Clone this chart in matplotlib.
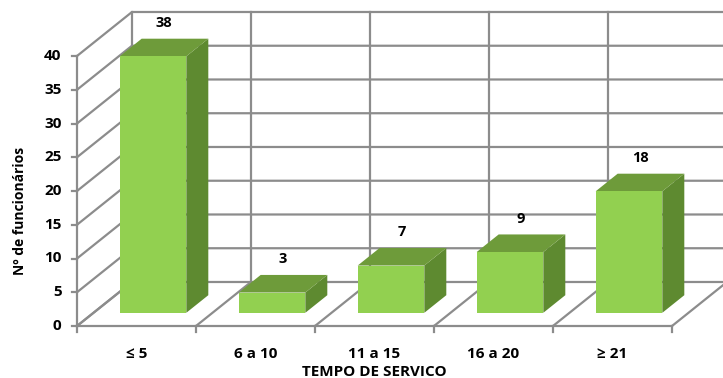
import matplotlib
matplotlib.use("Agg")
import matplotlib.pyplot as plt
from matplotlib.patches import Polygon

categories = ["≤ 5", "6 a 10", "11 a 15", "16 a 20", "≥ 21"]
values = [38, 3, 7, 9, 18]
y_ticks = [0, 5, 10, 15, 20, 25, 30, 35, 40]

FONT = ["Open Sans", "DejaVu Sans"]
GRID = "#8c8c8c"
FRONT = "#92d050"
TOP = "#6e9b3a"
SIDE = "#5e8a30"

# oblique depth offset (in data units) for the full floor depth
DX, DY = 0.462, 6.52
BAR_W = 0.56
D0, D1 = 0.3, 0.7  # bar depth span


def proj(x, y, d):
    return (x + d * DX, y + d * DY)


fig = plt.figure(figsize=(7.23, 3.78), dpi=100)
ax = fig.add_axes([0, 0, 1, 1])
# map data so that front origin sits at pixel (77, 326)
ax.set_xlim((0 - 77) / 119, (723 - 77) / 119)
ax.set_ylim((326 - 378) / 6.75, (326 - 0) / 6.75)
ax.axis("off")

n = len(categories)
ymax = y_ticks[-1]
lw = 1.6

# back wall horizontal gridlines + left wall diagonals
for t in y_ticks:
    x0, y0 = proj(0, t, 0)
    x1, y1 = proj(0, t, 1)
    x2, y2 = proj(n, t, 1)
    ax.plot([x0, x1, x2], [y0, y1, y2], color=GRID, lw=lw, zorder=1)
    ax.plot([x0 - 0.04, x0], [y0, y0], color=GRID, lw=lw, zorder=1)
    ax.text(x0 - 0.13, y0, str(t), ha="right", va="center", fontsize=11,
            fontweight="bold", family=FONT)

# back wall verticals and floor diagonals
for i in range(n + 1):
    xb, yb = proj(i, 0, 1)
    xt, yt = proj(i, ymax, 1)
    ax.plot([xb, xt], [yb, yt], color=GRID, lw=lw, zorder=1)
    xf, yf = proj(i, 0, 0)
    ax.plot([xf, xb], [yf, yb], color=GRID, lw=lw, zorder=1)
    ax.plot([xf, xf], [yf, yf - 0.9], color=GRID, lw=lw, zorder=1)

# front axes lines
ax.plot([0, 0], [0, ymax], color=GRID, lw=lw, zorder=1)
ax.plot([0, n], [0, 0], color=GRID, lw=lw, zorder=1)

# 3D bars
for i, (cat, v) in enumerate(zip(categories, values)):
    xl = i + (1 - BAR_W) / 2
    xr = xl + BAR_W
    front = [proj(xl, 0, D0), proj(xr, 0, D0), proj(xr, v, D0), proj(xl, v, D0)]
    side = [proj(xr, 0, D0), proj(xr, 0, D1), proj(xr, v, D1), proj(xr, v, D0)]
    top = [proj(xl, v, D0), proj(xr, v, D0), proj(xr, v, D1), proj(xl, v, D1)]
    ax.add_patch(Polygon(side, closed=True, facecolor=SIDE, edgecolor="none", zorder=3))
    ax.add_patch(Polygon(top, closed=True, facecolor=TOP, edgecolor="none", zorder=3))
    ax.add_patch(Polygon(front, closed=True, facecolor=FRONT, edgecolor="none", zorder=4))
    lx, ly = proj(i + 0.5, v, 0.5)
    ax.text(lx, ly + 3.6, str(v), ha="center", va="center", fontsize=10.5,
            fontweight="bold", family=FONT, zorder=5)
    ax.text(i + 0.5, -4.1, cat, ha="center", va="center", fontsize=11,
            fontweight="bold", family=FONT)

ax.text(n / 2, -6.75, "TEMPO DE SERVICO", ha="center", va="center", fontsize=11,
        fontweight="bold", family=FONT)
fig.text(20 / 723, 1 - 211 / 378, "Nº de funcionários", rotation=90, ha="center",
         va="center", fontsize=10, fontweight="bold", family=FONT)

fig.savefig("out.png", dpi=100)
